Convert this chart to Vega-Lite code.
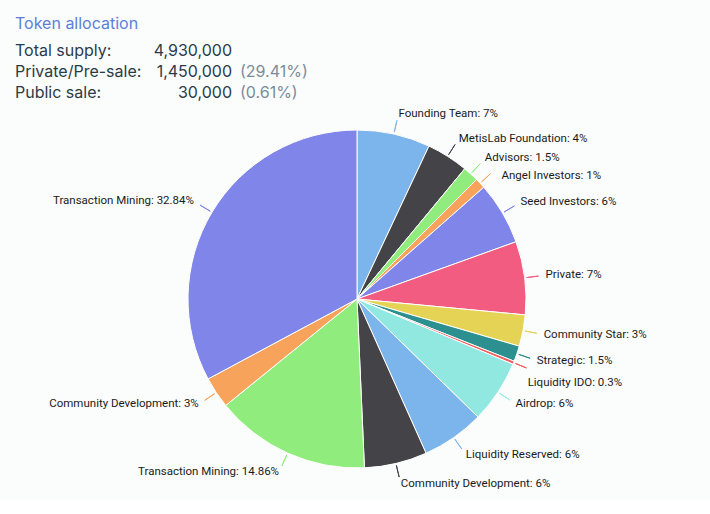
{
  "$schema": "https://vega.github.io/schema/vega-lite/v6.json",
  "background": "#fbfdfd",
  "padding": {"left": 4, "top": 16, "right": 0, "bottom": 0},
  "bounds": "flush",
  "spacing": 0,
  "config": {"view": {"stroke": null}, "font": "Inter"},
  "title": {"text": "Token allocation", "anchor": "start", "fontSize": 16, "fontWeight": "normal", "color": "#5b7fd6", "font": "Inter", "dx": 11, "offset": 3, "frame": "group"},
  "vconcat": [
    {
      "width": 300,
      "height": 63,
      "data": {"values": [
        {"row": 1, "col": "label", "text": "Total supply:"},
        {"row": 1, "col": "value", "text": "4,930,000"},
        {"row": 2, "col": "label", "text": "Private/Pre-sale:"},
        {"row": 2, "col": "value", "text": "1,450,000"},
        {"row": 2, "col": "pct", "text": "(29.41%)"},
        {"row": 3, "col": "label", "text": "Public sale:"},
        {"row": 3, "col": "value", "text": "30,000"},
        {"row": 3, "col": "pct", "text": "(0.61%)"}
      ]},
      "encoding": {
        "y": {"field": "row", "type": "quantitative", "scale": {"domain": [0, 3], "reverse": true}, "axis": null},
        "text": {"field": "text"}
      },
      "layer": [
        {"transform": [{"filter": "datum.col == 'label'"}],
         "mark": {"type": "text", "align": "left", "baseline": "alphabetic", "fontSize": 16, "font": "Inter", "color": "#2c3a47"},
         "encoding": {"x": {"value": 11}}},
        {"transform": [{"filter": "datum.col == 'value'"}],
         "mark": {"type": "text", "align": "right", "baseline": "alphabetic", "fontSize": 16, "font": "Inter", "color": "#2c3a47"},
         "encoding": {"x": {"value": 228}}},
        {"transform": [{"filter": "datum.col == 'pct'"}],
         "mark": {"type": "text", "align": "left", "baseline": "alphabetic", "fontSize": 16, "font": "Inter", "color": "#7d8b99"},
         "encoding": {"x": {"value": 236}}}
      ]
    },
    {
      "width": 706,
      "height": 402,
      "data": {"values": [
        {"order": 1, "name": "Founding Team", "value": 7},
        {"order": 2, "name": "MetisLab Foundation", "value": 4},
        {"order": 3, "name": "Advisors", "value": 1.5},
        {"order": 4, "name": "Angel Investors", "value": 1},
        {"order": 5, "name": "Seed Investors", "value": 6},
        {"order": 6, "name": "Private", "value": 7},
        {"order": 7, "name": "Community Star", "value": 3},
        {"order": 8, "name": "Strategic", "value": 1.5},
        {"order": 9, "name": "Liquidity IDO", "value": 0.3},
        {"order": 10, "name": "Airdrop", "value": 6},
        {"order": 11, "name": "Liquidity Reserved", "value": 6},
        {"order": 12, "name": "Community Development", "value": 6},
        {"order": 13, "name": "Transaction Mining", "value": 14.86},
        {"order": 14, "name": "Community Development", "value": 3},
        {"order": 15, "name": "Transaction Mining", "value": 32.84}
      ]},
      "transform": [
        {"window": [{"op": "sum", "field": "value", "as": "end"}], "sort": [{"field": "order"}], "frame": [null, 0]},
        {"calculate": "datum.end - datum.value", "as": "start"},
        {"calculate": "datum.end - datum.value / 2", "as": "mid"},
        {"window": [{"op": "lag", "field": "mid", "as": "prev"}], "sort": [{"field": "order"}]},
        {"calculate": "(datum.prev != null && datum.mid - datum.prev < 2) ? datum.prev + 2 : datum.mid", "as": "labelPos"},
        {"calculate": "datum.mid < 50 ? 'right' : 'left'", "as": "side"},
        {"calculate": "datum.name + ': ' + datum.value + '%'", "as": "label"}
      ],
      "layer": [
        {
          "mark": {"type": "arc", "radius": 169, "stroke": "#ffffff", "strokeWidth": 1},
          "encoding": {
            "theta": {"field": "start", "type": "quantitative", "scale": {"domain": [0, 100]}},
            "theta2": {"field": "end"},
            "color": {"field": "order", "type": "ordinal", "legend": null,
              "scale": {"range": ["#7cb5ec", "#434348", "#90ed7d", "#f7a35c", "#8085e9", "#f15c80", "#e4d354", "#2b908f", "#f45b5b", "#91e8e1", "#7cb5ec", "#434348", "#90ed7d", "#f7a35c", "#8085e9"]}}
          }
        },
        {
          "mark": {"type": "arc", "radius": 183, "radius2": 171, "fillOpacity": 0, "strokeWidth": 1},
          "encoding": {
            "theta": {"field": "mid", "type": "quantitative", "scale": {"domain": [0, 100]}},
            "theta2": {"field": "mid"},
            "stroke": {"field": "order", "type": "ordinal", "legend": null,
              "scale": {"range": ["#7cb5ec", "#434348", "#90ed7d", "#f7a35c", "#8085e9", "#f15c80", "#e4d354", "#2b908f", "#f45b5b", "#91e8e1", "#7cb5ec", "#434348", "#90ed7d", "#f7a35c", "#8085e9"]}}
          }
        },
        {
          "transform": [{"filter": "datum.side == 'right'"}],
          "mark": {"type": "text", "radius": 190, "align": "left", "baseline": "middle", "fontSize": 11.5, "font": "Roboto", "color": "#1a1a1a"},
          "encoding": {
            "theta": {"field": "labelPos", "type": "quantitative", "scale": {"domain": [0, 100]}},
            "text": {"field": "label"}
          }
        },
        {
          "transform": [{"filter": "datum.side == 'left'"}],
          "mark": {"type": "text", "radius": 190, "align": "right", "baseline": "middle", "fontSize": 11.5, "font": "Roboto", "color": "#1a1a1a"},
          "encoding": {
            "theta": {"field": "labelPos", "type": "quantitative", "scale": {"domain": [0, 100]}},
            "text": {"field": "label"}
          }
        }
      ]
    }
  ]
}
